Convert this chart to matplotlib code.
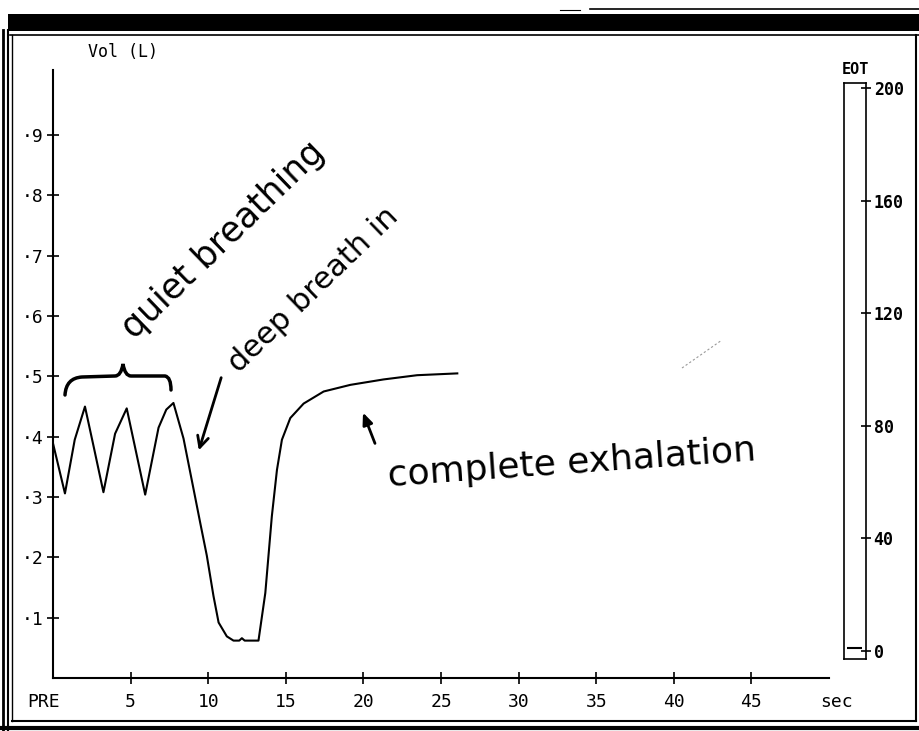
import matplotlib
matplotlib.use("Agg")
import matplotlib.pyplot as plt
from matplotlib.patches import Rectangle, PathPatch
from matplotlib.path import Path

# volume trace (sec, litres)
time_sec = [0.0, 0.77, 1.4, 2.06, 2.65, 3.25, 4.0, 4.75, 5.35, 5.94, 6.8, 7.3, 7.76,
            8.41, 9.05, 9.48, 9.91, 10.34, 10.67, 11.2, 11.63, 12.0, 12.17, 12.35,
            13.24, 13.68, 14.1, 14.43, 14.75, 15.29, 16.15, 17.44, 19.16, 21.3,
            23.46, 26.05]
volume_l = [3.89, 3.06, 3.95, 4.5, 3.8, 3.08, 4.05, 4.47, 3.75, 3.04, 4.15, 4.45, 4.56,
            3.97, 3.14, 2.58, 2.03, 1.36, 0.92, 0.69, 0.62, 0.62, 0.66, 0.62,
            0.62, 1.41, 2.68, 3.45, 3.95, 4.31, 4.55, 4.75, 4.86, 4.95,
            5.02, 5.05]

x_ticks = [5, 10, 15, 20, 25, 30, 35, 40, 45]
y_ticks = [1, 2, 3, 4, 5, 6, 7, 8, 9]
eot_ticks = [0, 40, 80, 120, 160, 200]
eot_level = 1

W, H = 919, 731
fig = plt.figure(figsize=(W / 100, H / 100), dpi=100)


def px_box(left, top, right, bottom):
    return [left / W, 1 - bottom / H, (right - left) / W, (bottom - top) / H]


# printout frame, drawn in pixel space
frame = fig.add_axes([0, 0, 1, 1])
frame.set_xlim(0, W)
frame.set_ylim(H, 0)
frame.axis("off")
frame.add_patch(Rectangle((8, 14), W - 8, 17, color="black", lw=0))
frame.plot([590, W], [9, 9], color="black", lw=1.2)
frame.plot([560, 580], [10, 10], color="black", lw=0.8)
frame.plot([10, W], [35, 35], color="black", lw=1.2)
frame.plot([3, 3], [30, H], color="black", lw=2)
frame.plot([8, 8], [30, H], color="black", lw=1.5)
frame.plot([12, 12], [35, 721], color="black", lw=1)
frame.plot([916, 916], [35, 721], color="black", lw=1.5)
frame.plot([12, 916], [721, 721], color="black", lw=1.5)
frame.plot([0, W], [728, 728], color="black", lw=3)

mono = "DejaVu Sans Mono"
hand = "DejaVu Sans"

# volume trace
ax = fig.add_axes(px_box(53, 70, 829, 678))
ax.patch.set_alpha(0)
ax.plot(time_sec, volume_l, color="black", lw=1.5)
ax.set_xlim(0, 50)
ax.set_ylim(0, 10.08)
for s in ["top", "right"]:
    ax.spines[s].set_visible(False)
for s in ["left", "bottom"]:
    ax.spines[s].set_linewidth(1.5)
ax.set_xticks(x_ticks)
ax.set_xticklabels([str(t) for t in x_ticks], family=mono, fontsize=13)
ax.set_yticks(y_ticks)
ax.set_yticklabels(["\u00b7" + str(v) for v in y_ticks], family=mono, fontsize=13)
ax.tick_params(axis="x", direction="inout", length=8, width=1.2, pad=7)
ax.tick_params(axis="y", direction="inout", length=8, width=1.2, pad=3)

frame.text(88, 52, "Vol (L)", family=mono, fontsize=12, va="center", ha="left")
frame.text(44, 702, "PRE", family=mono, fontsize=13, va="center", ha="center")
frame.text(836, 702, "sec", family=mono, fontsize=13, va="center", ha="center")

# EOT bar
eot = fig.add_axes(px_box(844, 83, 866, 659))
eot.set_xlim(0, 1)
eot.set_ylim(-2.84, 201.8)
for s in eot.spines.values():
    s.set_linewidth(1.2)
eot.hlines(eot_level, 0.12, 0.8, color="black", lw=1.5)
eot.set_xticks([])
eot.yaxis.tick_right()
eot.set_yticks(eot_ticks)
eot.set_yticklabels([str(v) for v in eot_ticks], family=mono, fontsize=12, fontweight="bold")
eot.tick_params(axis="y", direction="inout", length=7, width=1.2, pad=2)
frame.text(855, 70, "EOT", family=mono, fontsize=11, fontweight="bold", ha="center", va="center")

# handwritten notes
frame.text(223, 240, "quiet breathing", family=hand, fontsize=25, rotation=44,
           ha="center", va="center")
frame.text(313, 290, "deep breath in", family=hand, fontsize=22, rotation=44,
           ha="center", va="center")
frame.text(572, 463, "complete exhalation", family=hand, fontsize=26, rotation=4,
           ha="center", va="center")

brace = Path([(65, 395), (66, 378), (82, 377), (115, 376), (121, 376), (123, 364),
              (125, 376), (131, 376), (165, 376), (171, 377), (171, 390)],
             [Path.MOVETO, Path.CURVE3, Path.CURVE3, Path.LINETO, Path.CURVE3, Path.CURVE3,
              Path.CURVE3, Path.CURVE3, Path.LINETO, Path.CURVE3, Path.CURVE3])
frame.add_patch(PathPatch(brace, fill=False, lw=2.5, color="black", capstyle="round"))

frame.annotate("", xy=(198, 453), xytext=(222, 375),
               arrowprops=dict(arrowstyle="->,head_length=0.8,head_width=0.4", lw=2, color="black"))
frame.annotate("", xy=(362, 410), xytext=(376, 446),
               arrowprops=dict(arrowstyle="-|>,head_length=0.7,head_width=0.3", lw=2, color="black"))
frame.plot([682, 722], [368, 340], color="0.6", lw=0.8, ls=(0, (2, 2)))

fig.savefig("out.png", dpi=100)
